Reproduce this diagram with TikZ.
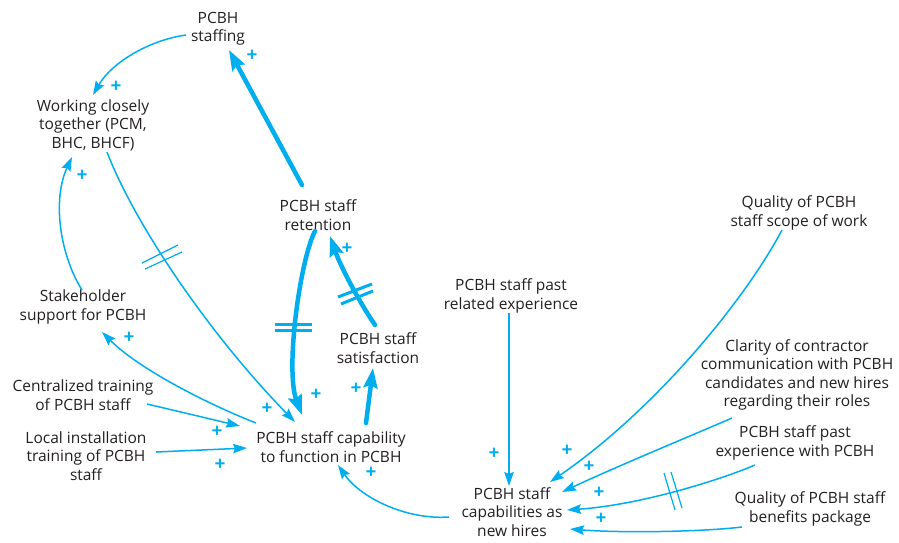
\documentclass[tikz,border=0pt]{standalone}
\usepackage{fontspec}
\setmainfont{Open Sans}
\usetikzlibrary{arrows.meta,calc}
\definecolor{cldblue}{HTML}{00AEEF}
\definecolor{cldtext}{HTML}{231F20}
\begin{document}
\begin{tikzpicture}[x=1pt,y=-1pt,
  var/.style={align=center, inner sep=0pt, text=cldtext, font=\fontsize{15.5}{18.4}\selectfont},
  sign/.style={text=cldblue, inner sep=0pt, font=\fontsize{19}{19}\selectfont\bfseries},
  link/.style={draw=cldblue, line width=1.5pt, -{Stealth[length=14pt,width=9.5pt,inset=2pt]}},
  strong/.style={draw=cldblue, line width=4.5pt, line cap=round, -{Stealth[length=20pt,width=14pt,inset=3pt]}},
  delay/.style={draw=cldblue, line width=1.2pt},
  delaythick/.style={draw=cldblue, line width=3pt},
]
\useasboundingbox (0,0) rectangle (899,542);

% variables
\node[var] (staffing)  at (218,29)  {PCBH\\staffing};
\node[var] (working)   at (93,125)  {Working closely\\together (PCM,\\BHC, BHCF)};
\node[var] (retention) at (318,215) {PCBH staff\\retention};
\node[var] (stake)     at (83,307)  {Stakeholder\\support for PCBH};
\node[var] (central)   at (83,395)  {Centralized training\\of PCBH staff};
\node[var] (local)     at (86,456)  {Local installation\\training of PCBH\\staff};
\node[var] (capab)     at (331,447) {PCBH staff capability\\to function in PCBH};
\node[var] (satis)     at (378,348) {PCBH staff\\satisfaction};
\node[var] (pastrel)   at (511,296) {PCBH staff past\\related experience};
\node[var] (scope)     at (799,213) {Quality of PCBH\\staff scope of work};
\node[var] (clarity)   at (797,375) {Clarity of contractor\\communication with PCBH\\candidates and new hires\\regarding their roles};
\node[var] (pastexp)   at (795,443) {PCBH staff past\\experience with PCBH};
\node[var] (benefits)  at (810,509) {Quality of PCBH staff\\benefits package};
\node[var] (newhires)  at (512,512) {PCBH staff\\capabilities as\\new hires};

% causal links
\draw[link] ($(staffing)+(-32,6)$) .. controls (150,40) and (112,62) .. ($(working)+(0,-30)$);
\draw[strong] ($(retention)+(-16,-30)$) -- ($(staffing)+(11,21)$);
\draw[link] ($(stake)+(-1,-17)$) .. controls (60,255) and (52,200) .. ($(working)+(-21,32)$);
\draw[link] ($(working)+(14,27)$) .. controls (135,225) and (210,335) .. ($(capab)+(-36,-25)$);
\draw[strong] ($(retention)+(-3,16)$) .. controls (300,260) and (285,370) .. ($(capab)+(-29,-32)$);
\draw[strong] ($(satis)+(-3,-23)$) .. controls (358,300) and (340,265) .. ($(retention)+(12,21)$);
\draw[strong] ($(capab)+(35,-24)$) -- ($(satis)+(-5,20)$);
\draw[link] ($(capab)+(-75,-24)$) .. controls (210,405) and (140,370) .. ($(stake)+(19,25)$);
\draw[link] ($(central)+(64,9)$) -- ($(capab)+(-91,-21)$);
\draw[link] ($(local)+(70,-4)$) -- ($(capab)+(-84,1)$);
\draw[link] ($(newhires)+(-63,5)$) .. controls (405,520) and (360,497) .. ($(capab)+(7,18)$);
\draw[link] ($(pastrel)+(-2,17)$) -- ($(newhires)+(-3,-26)$);
\draw[link] ($(scope)+(-17,17)$) .. controls (745,300) and (655,410) .. ($(newhires)+(38,-30)$);
\draw[link] ($(clarity)+(-65,43)$) .. controls (700,432) and (620,465) .. ($(newhires)+(50,-20)$);
\draw[link] ($(pastexp)+(-40,22)$) .. controls (720,480) and (640,505) .. ($(newhires)+(55,-2)$);
\draw[link] ($(benefits)+(-68,18)$) .. controls (700,532) and (620,533) .. ($(newhires)+(58,17)$);

% delay marks
\draw[delay] (142,263) -- (178,245) (145,269) -- (182,252);
\draw[delaythick] (275,324) -- (312,324) (275,330) -- (312,330);
\draw[delaythick] (338,297) -- (372,284) (341,304) -- (373,291);
\draw[delay] (664,473) -- (675,510) (671,472) -- (682,508);

% polarities
\node[sign] (p1)  at (116,87)  {+};
\node[sign] (p2)  at (252,56)  {+};
\node[sign] (p3)  at (82,176)  {+};
\node[sign] (p4)  at (267,409) {+};
\node[sign] (p5)  at (316,395) {+};
\node[sign] (p6)  at (347,249) {+};
\node[sign] (p7)  at (356,389) {+};
\node[sign] (p8)  at (129,338) {+};
\node[sign] (p9)  at (217,432) {+};
\node[sign] (p10) at (220,465) {+};
\node[sign] (p11) at (371,473) {+};
\node[sign] (p12) at (494,454) {+};
\node[sign] (p13) at (567,451) {+};
\node[sign] (p14) at (589,467) {+};
\node[sign] (p15) at (599,493) {+};
\node[sign] (p16) at (601,519) {+};
\end{tikzpicture}
\end{document}
